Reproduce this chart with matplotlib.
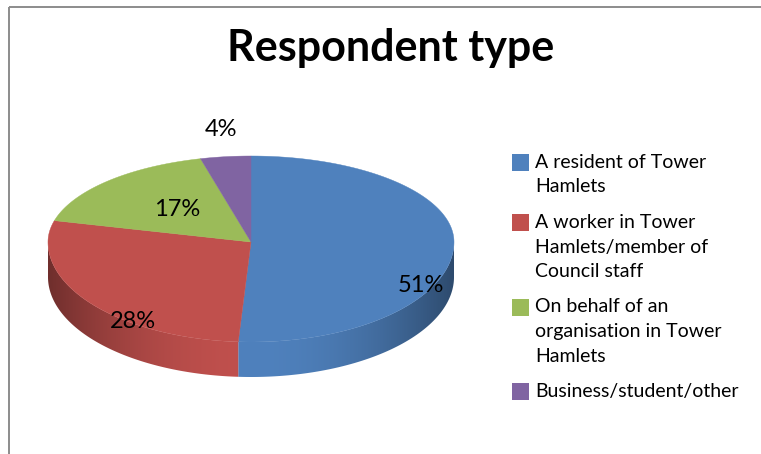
import textwrap
import numpy as np
import matplotlib.pyplot as plt
from matplotlib.patches import Polygon, Rectangle
from matplotlib.colors import to_rgb

plt.rcParams['font.family'] = ['Lato', 'DejaVu Sans']

# survey breakdown
categories = ["A resident of Tower Hamlets",
              "A worker in Tower Hamlets/member of Council staff",
              "On behalf of an organisation in Tower Hamlets",
              "Business/student/other"]
shares = [51, 28, 17, 4]
pct_labels = ["51%", "28%", "17%", "4%"]
colors = ["#4f81bd", "#c0504d", "#9bbb59", "#8064a2"]

# layout, in pixels
W, H = 761, 454
CX, CY = 251, 242
RX = 203
RY_BACK, RY_FRONT = 86, 100
DEPTH = 35
label_xy = [(421, 286), (133, 322), (177, 210), (221, 129)]


def rim(theta):
    """Point on the top rim of the disc for angle(s) theta in degrees."""
    t = np.radians(theta)
    ry = np.where(np.sin(t) >= 0, RY_BACK, RY_FRONT)
    return CX + RX * np.cos(t), CY - ry * np.sin(t)


def front_part(a0, a1):
    """Part of the angle range [a1, a0] that faces the viewer."""
    parts = []
    for lo, hi in [(-180, 0), (-540, -360)]:
        s, e = max(a1, lo), min(a0, hi)
        if e > s:
            parts.append((s, e))
    return parts


fig = plt.figure(figsize=(W / 100, H / 100), dpi=100)
ax = fig.add_axes([0, 0, 1, 1])

total = sum(shares)
start = 90.0
spans = []
for v in shares:
    span = v / total * 360
    spans.append((start, start - span))
    start -= span

# side walls with a horizontal shading gradient
xs = np.linspace(CX - RX, CX + RX, 400)
shade = 1 - 0.42 * ((xs - CX) / RX) ** 2
for (a0, a1), c in zip(spans, colors):
    for s, e in front_part(a0, a1):
        t = np.linspace(s, e, 120)
        x, y = rim(t)
        pts = np.column_stack([np.r_[x, x[::-1]],
                               np.r_[y, y[::-1] + DEPTH]])
        wall = Polygon(pts, closed=True, fill=False, linewidth=0)
        ax.add_patch(wall)
        img = np.array(to_rgb(c))[None, None, :] * shade[None, :, None]
        im = ax.imshow(img, extent=(CX - RX, CX + RX,
                                    CY + RY_FRONT + DEPTH, CY),
                       aspect='auto', interpolation='bilinear')
        im.set_clip_path(wall)

# top face
for (a0, a1), c in zip(spans, colors):
    t = np.linspace(a0, a1, 200)
    x, y = rim(t)
    pts = np.column_stack([np.r_[CX, x], np.r_[CY, y]])
    ax.add_patch(Polygon(pts, closed=True, facecolor=c,
                         edgecolor=c, linewidth=0.3))

for (x, y), s in zip(label_xy, pct_labels):
    ax.text(x, y, s, ha='center', va='center', fontsize=17, color='black')

ax.text(391, 61, "Respondent type", ha='center', va='baseline',
        fontsize=31, fontweight='bold', color='black')

# legend
yc = 162.5
for cat, c in zip(categories, colors):
    lines = textwrap.wrap(cat, 21, break_long_words=False)
    ax.add_patch(Rectangle((512, yc - 8.5), 17, 17, facecolor=c,
                           edgecolor='none'))
    for j, line in enumerate(lines):
        ax.text(535, yc + j * 24.5, line, ha='left', va='center',
                fontsize=14, color='black')
    yc += len(lines) * 24.5 + 11

# chart border
ax.add_patch(Rectangle((9, 7), W, H, fill=False, edgecolor='#8c8c8c',
                       linewidth=1.4))

ax.set_xlim(0, W)
ax.set_ylim(H, 0)
ax.axis('off')

fig.savefig("out.png", dpi=100)
